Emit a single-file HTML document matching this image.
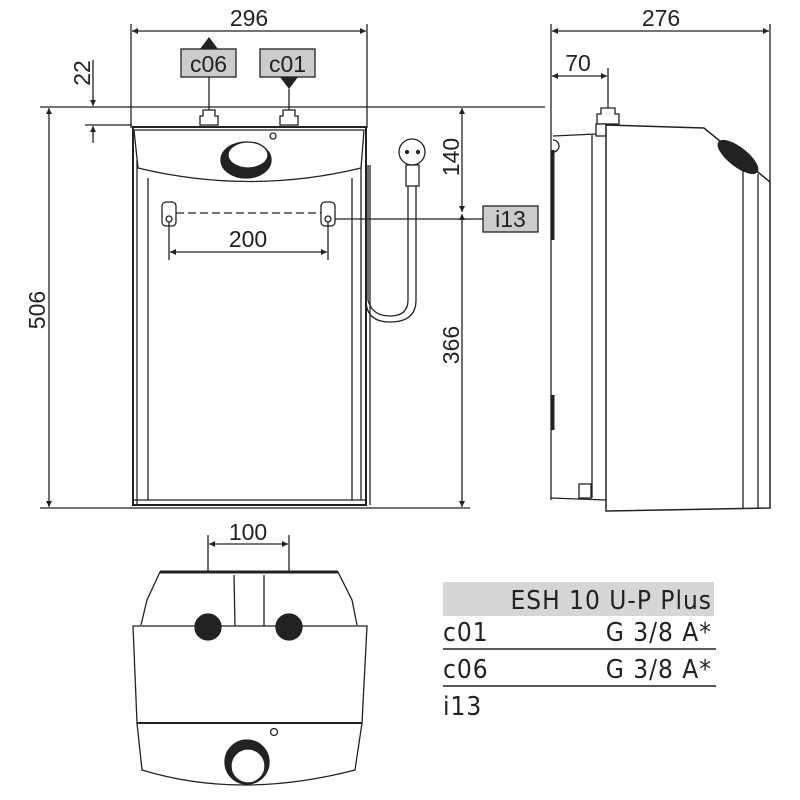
<!DOCTYPE html>
<html><head><meta charset="utf-8"><style>html,body{margin:0;padding:0;background:#fff}svg{display:block}</style></head>
<body>
<svg width="800" height="800" viewBox="0 0 800 800" xmlns="http://www.w3.org/2000/svg" font-family="Liberation Sans, sans-serif">
<defs>
<marker id="a" viewBox="0 0 10 10" refX="10" refY="5" markerWidth="10" markerHeight="6" orient="auto-start-reverse" markerUnits="userSpaceOnUse"><path d="M0,0 L10,5 L0,10 z" fill="#222"/></marker>
</defs>
<g stroke="#222" stroke-width="1.3" fill="none">
<line x1="131" y1="24" x2="131" y2="128"/><line x1="367" y1="24" x2="367" y2="128"/>
<line x1="132" y1="31" x2="366" y2="31" marker-start="url(#a)" marker-end="url(#a)"/>
<line x1="40" y1="107" x2="545" y2="107"/>
<line x1="85" y1="125" x2="132" y2="125"/>
<line x1="93" y1="60" x2="93" y2="106" marker-end="url(#a)"/>
<line x1="93" y1="143" x2="93" y2="126" marker-end="url(#a)"/>
<line x1="49" y1="108" x2="49" y2="507" marker-start="url(#a)" marker-end="url(#a)"/>
<line x1="40" y1="508" x2="470" y2="508"/>
<line x1="462" y1="108" x2="462" y2="212" marker-start="url(#a)" marker-end="url(#a)"/>
<line x1="462" y1="214" x2="462" y2="507" marker-start="url(#a)" marker-end="url(#a)"/>
<line x1="330" y1="219" x2="483" y2="219"/>
<line x1="209" y1="77" x2="209" y2="110"/><line x1="289" y1="89" x2="289" y2="110"/>
<path d="M203,110h12v6h3v9h-18v-9h3z" fill="#fff"/>
<path d="M283,110h12v6h3v9h-18v-9h3z" fill="#fff"/>
<path d="M133,127 H366 V505 H133 Z" stroke-width="2"/>
<line x1="137" y1="160" x2="137" y2="505"/>
<line x1="148" y1="178" x2="148" y2="500"/><line x1="352" y1="178" x2="352" y2="500"/>
<line x1="133" y1="500" x2="366" y2="500"/>
<line x1="361" y1="165" x2="361" y2="500"/><line x1="370" y1="165" x2="370" y2="505"/>
<path d="M134,130 H364 L361,168 Q250,195 138,168 Z" fill="#fff"/>
<ellipse cx="246" cy="160" rx="25" ry="18" fill="#222"/>
<ellipse cx="248" cy="155" rx="20" ry="13" fill="#fff"/>
<circle cx="273" cy="136" r="3"/>
<rect x="162" y="202" width="14" height="24" rx="4" fill="#fff"/><circle cx="169" cy="219" r="3"/>
<rect x="321" y="202" width="14" height="24" rx="4" fill="#fff"/><circle cx="328" cy="219" r="3"/>
<line x1="176" y1="213" x2="321" y2="213" stroke-dasharray="8,4"/>
<line x1="169" y1="222" x2="169" y2="260"/><line x1="328" y1="222" x2="328" y2="260"/>
<line x1="170" y1="252" x2="327" y2="252" marker-start="url(#a)" marker-end="url(#a)"/>
<circle cx="412" cy="152" r="13" fill="#fff"/>
<circle cx="407" cy="152" r="1.5" fill="#222"/><circle cx="418" cy="152" r="1.5" fill="#222"/>
<rect x="406" y="165" width="13" height="21" fill="#fff"/>
<path d="M408,186 V300 Q408,316 390,316 Q372,316 368,300 V165"/>
<path d="M416,186 V300 Q416,322 390,322 Q366,322 366,300"/>
<line x1="551" y1="24" x2="551" y2="500"/><line x1="770" y1="24" x2="770" y2="182"/>
<line x1="552" y1="31" x2="769" y2="31" marker-start="url(#a)" marker-end="url(#a)"/>
<line x1="608" y1="68" x2="608" y2="110"/>
<line x1="552" y1="76" x2="607" y2="76" marker-start="url(#a)" marker-end="url(#a)"/>
<path d="M601,108h14v6h4v10h-22v-10h4z" fill="#fff"/>
<rect x="596" y="124" width="10" height="12" fill="#fff"/>
<line x1="553" y1="136" x2="596" y2="134"/>
<path d="M606,125 L704,128 L770,182 V508 L606,511 Z" stroke-width="1.5" fill="#fff"/>
<line x1="743" y1="165" x2="743" y2="508"/><line x1="758" y1="174" x2="758" y2="508"/>
<line x1="592" y1="135" x2="592" y2="498"/>
<line x1="551" y1="498" x2="606" y2="500"/>
<rect x="579" y="484" width="12" height="14"/>
<path d="M553,140 a4,4 0 1 1 0,12"/>
<line x1="553" y1="150" x2="553" y2="240" stroke-width="3"/>
<line x1="553" y1="395" x2="553" y2="430" stroke-width="3"/>
<ellipse cx="738" cy="157" rx="24" ry="9" transform="rotate(38 738 157)" fill="#222"/>
<line x1="208" y1="535" x2="208" y2="628"/><line x1="289" y1="535" x2="289" y2="628"/>
<line x1="209" y1="544" x2="288" y2="544" marker-start="url(#a)" marker-end="url(#a)"/>
<path d="M141,625 L147,600 L160,572 H338 L352,600 L357,625" fill="#fff"/>
<line x1="160" y1="572" x2="338" y2="572" stroke-width="3"/>
<line x1="234" y1="575" x2="235" y2="626"/><line x1="264" y1="575" x2="264" y2="626"/>
<path d="M133,626 H367 L362,723 H137 Z" fill="#fff"/>
<line x1="137" y1="723" x2="362" y2="723" stroke-width="2"/>
<path d="M137,723 L142,770 Q240,800 355,770 L362,723"/>
<circle cx="208" cy="627" r="13" fill="#222"/><circle cx="289" cy="627" r="13" fill="#222"/>
<circle cx="247" cy="762" r="22" fill="#222"/><circle cx="248" cy="766" r="17" fill="#fff"/>
<circle cx="274" cy="732" r="3.5"/>
</g>
<path d="M200,49 L209,37 L218,49 Z" fill="#222"/>
<path d="M280,77 L289,89 L298,77 Z" fill="#222"/>
<rect x="181" y="49" width="55" height="28" fill="#ccc" stroke="#222" stroke-width="1.3"/>
<rect x="260" y="49" width="55" height="28" fill="#ccc" stroke="#222" stroke-width="1.3"/>
<rect x="483" y="206" width="55" height="26" fill="#ccc" stroke="#222" stroke-width="1.3"/>
<g fill="#222" font-size="23" text-anchor="middle">
<text x="208.5" y="72">c06</text><text x="287.5" y="72">c01</text><text x="510.5" y="227">i13</text>
<text x="249" y="26">296</text><text x="661" y="26">276</text><text x="578" y="71">70</text>
<text x="248" y="247">200</text><text x="248" y="540">100</text>
<text transform="translate(90,73) rotate(-90)">22</text>
<text transform="translate(45,310) rotate(-90)">506</text>
<text transform="translate(459,157) rotate(-90)">140</text>
<text transform="translate(459,345) rotate(-90)">366</text>
</g>
<rect x="443" y="582" width="271" height="34" fill="#d6d6d6"/>
<g fill="#222" font-size="26" letter-spacing="1" font-family="DejaVu Sans Condensed, DejaVu Sans, sans-serif">
<text x="712" y="609" text-anchor="end">ESH 10 U-P Plus</text>
<text x="443" y="641">c01</text><text x="712" y="641" text-anchor="end">G 3/8 A*</text>
<text x="443" y="678">c06</text><text x="712" y="678" text-anchor="end">G 3/8 A*</text>
<text x="443" y="715">i13</text>
</g>
<line x1="443" y1="649" x2="716" y2="649" stroke="#222" stroke-width="1.5"/>
<line x1="443" y1="686" x2="716" y2="686" stroke="#222" stroke-width="1.5"/>
</svg>
</body></html>
